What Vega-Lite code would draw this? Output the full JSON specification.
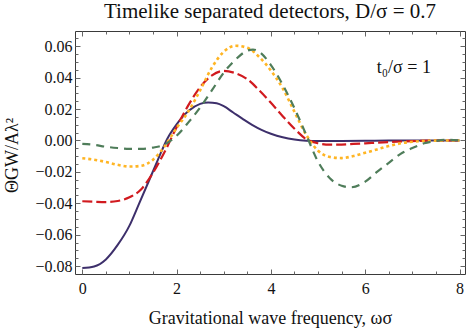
{
  "$schema": "https://vega.github.io/schema/vega-lite/v6.json",
  "width": 390,
  "height": 243,
  "autosize": {"type": "none"},
  "padding": {"left": 75, "top": 31, "right": 6, "bottom": 58},
  "title": {"text": "Timelike separated detectors, D/σ = 0.7", "font": "Liberation Serif", "fontSize": 21, "fontWeight": "normal", "color": "#111111", "frame": "group", "anchor": "middle", "baseline": "alphabetic", "offset": -8},
  "config": {
    "view": {"stroke": "#3a3a3a", "strokeWidth": 1},
    "axis": {"domain": false, "grid": false, "tickColor": "#666666", "tickWidth": 1, "labelFont": "Liberation Serif", "labelFontSize": 16, "labelColor": "#111111", "titleFont": "Liberation Serif", "titleFontSize": 18, "titleFontWeight": "normal", "titleColor": "#111111"}
  },
  "data": {"values": [
    {"s":"P","x":0,"y":-0.0812},{"s":"P","x":0.25,"y":-0.0802},{"s":"P","x":0.5,"y":-0.0757},{"s":"P","x":0.75,"y":-0.0665},{"s":"P","x":1,"y":-0.0542},{"s":"P","x":1.2,"y":-0.0405},{"s":"P","x":1.4,"y":-0.0266},{"s":"P","x":1.6,"y":-0.0125},{"s":"P","x":1.8,"y":0.001},{"s":"P","x":2,"y":0.0103},{"s":"P","x":2.25,"y":0.0188},{"s":"P","x":2.5,"y":0.0233},{"s":"P","x":2.67,"y":0.0242},{"s":"P","x":2.85,"y":0.0237},{"s":"P","x":3,"y":0.0218},{"s":"P","x":3.2,"y":0.0178},{"s":"P","x":3.4,"y":0.0138},{"s":"P","x":3.6,"y":0.01},{"s":"P","x":3.8,"y":0.0068},{"s":"P","x":4,"y":0.0043},{"s":"P","x":4.25,"y":0.002},{"s":"P","x":4.5,"y":0.0006},{"s":"P","x":4.75,"y":-0.0001},{"s":"P","x":5,"y":-0.0003},{"s":"P","x":5.5,"y":-0.0003},{"s":"P","x":6,"y":-0.0002},{"s":"P","x":6.5,"y":0},{"s":"P","x":7,"y":0},{"s":"P","x":8,"y":0},
    {"s":"R","x":0,"y":-0.0387},{"s":"R","x":0.25,"y":-0.039},{"s":"R","x":0.5,"y":-0.0392},{"s":"R","x":0.75,"y":-0.0385},{"s":"R","x":1,"y":-0.0362},{"s":"R","x":1.25,"y":-0.031},{"s":"R","x":1.5,"y":-0.0205},{"s":"R","x":1.75,"y":-0.007},{"s":"R","x":2,"y":0.0085},{"s":"R","x":2.25,"y":0.0225},{"s":"R","x":2.5,"y":0.034},{"s":"R","x":2.75,"y":0.0415},{"s":"R","x":3,"y":0.0443},{"s":"R","x":3.25,"y":0.0428},{"s":"R","x":3.5,"y":0.039},{"s":"R","x":3.75,"y":0.032},{"s":"R","x":4,"y":0.024},{"s":"R","x":4.25,"y":0.0155},{"s":"R","x":4.5,"y":0.0075},{"s":"R","x":4.75,"y":0.0008},{"s":"R","x":5,"y":-0.0018},{"s":"R","x":5.25,"y":-0.0026},{"s":"R","x":5.5,"y":-0.0026},{"s":"R","x":5.75,"y":-0.0022},{"s":"R","x":6,"y":-0.0018},{"s":"R","x":6.5,"y":-0.001},{"s":"R","x":7,"y":-0.0004},{"s":"R","x":7.5,"y":0},{"s":"R","x":8,"y":0},
    {"s":"Y","x":0,"y":-0.0113},{"s":"Y","x":0.25,"y":-0.0122},{"s":"Y","x":0.5,"y":-0.0137},{"s":"Y","x":0.75,"y":-0.0155},{"s":"Y","x":1,"y":-0.0166},{"s":"Y","x":1.25,"y":-0.0161},{"s":"Y","x":1.5,"y":-0.0122},{"s":"Y","x":1.75,"y":-0.0035},{"s":"Y","x":2,"y":0.008},{"s":"Y","x":2.25,"y":0.0185},{"s":"Y","x":2.5,"y":0.032},{"s":"Y","x":2.75,"y":0.0465},{"s":"Y","x":3,"y":0.0565},{"s":"Y","x":3.25,"y":0.0603},{"s":"Y","x":3.5,"y":0.059},{"s":"Y","x":3.75,"y":0.0532},{"s":"Y","x":4,"y":0.0445},{"s":"Y","x":4.25,"y":0.0332},{"s":"Y","x":4.5,"y":0.0182},{"s":"Y","x":4.75,"y":0.0035},{"s":"Y","x":5,"y":-0.0065},{"s":"Y","x":5.25,"y":-0.0105},{"s":"Y","x":5.5,"y":-0.0112},{"s":"Y","x":5.75,"y":-0.0099},{"s":"Y","x":6,"y":-0.0078},{"s":"Y","x":6.25,"y":-0.0057},{"s":"Y","x":6.5,"y":-0.0035},{"s":"Y","x":7,"y":-0.0008},{"s":"Y","x":7.5,"y":-0.0001},{"s":"Y","x":8,"y":0},
    {"s":"G","x":0,"y":-0.0021},{"s":"G","x":0.25,"y":-0.0028},{"s":"G","x":0.5,"y":-0.004},{"s":"G","x":0.75,"y":-0.0048},{"s":"G","x":1,"y":-0.0053},{"s":"G","x":1.25,"y":-0.0053},{"s":"G","x":1.5,"y":-0.0045},{"s":"G","x":1.75,"y":-0.0025},{"s":"G","x":2,"y":0.003},{"s":"G","x":2.25,"y":0.0115},{"s":"G","x":2.5,"y":0.021},{"s":"G","x":2.75,"y":0.032},{"s":"G","x":3,"y":0.0432},{"s":"G","x":3.25,"y":0.0515},{"s":"G","x":3.5,"y":0.0572},{"s":"G","x":3.62,"y":0.0579},{"s":"G","x":3.75,"y":0.0565},{"s":"G","x":4,"y":0.048},{"s":"G","x":4.25,"y":0.0355},{"s":"G","x":4.5,"y":0.0205},{"s":"G","x":4.75,"y":0.0035},{"s":"G","x":5,"y":-0.0135},{"s":"G","x":5.25,"y":-0.024},{"s":"G","x":5.5,"y":-0.0288},{"s":"G","x":5.7,"y":-0.0298},{"s":"G","x":6,"y":-0.0262},{"s":"G","x":6.25,"y":-0.02},{"s":"G","x":6.5,"y":-0.0142},{"s":"G","x":6.75,"y":-0.0085},{"s":"G","x":7,"y":-0.0048},{"s":"G","x":7.25,"y":-0.0018},{"s":"G","x":7.5,"y":-0.0003},{"s":"G","x":7.75,"y":0.0004},{"s":"G","x":8,"y":0.0001}
  ]},
  "resolve": {"axis": {"x": "independent", "y": "independent"}},
  "layer": [
    {
      "transform": [{"filter": "datum.s === 'P'"}],
      "mark": {"type": "line", "color": "#3d2f6b", "strokeWidth": 2, "interpolate": "monotone"},
      "encoding": {
        "x": {"field": "x", "type": "quantitative", "scale": {"domain": [-0.155, 8.116], "nice": false, "zero": false},
              "axis": {"orient": "bottom", "values": [0, 2, 4, 6, 8], "format": "d", "tickSize": -5, "labelPadding": 11, "title": "Gravitational wave frequency, ωσ", "titleY": 44, "titleBaseline": "middle"}},
        "y": {"field": "y", "type": "quantitative", "scale": {"domain": [-0.085, 0.0697], "nice": false, "zero": false},
              "axis": {"orient": "left", "values": [-0.08, -0.06, -0.04, -0.02, 0, 0.02, 0.04, 0.06], "format": ".2f", "tickSize": -5, "labelPadding": 8, "title": "ΘGW/Aλ²", "titleFontSize": 18, "titleX": -63, "titleY": 124, "titleAngle": -90, "titleAlign": "center", "titleBaseline": "middle"}}
      }
    },
    {
      "transform": [{"filter": "datum.s === 'R'"}],
      "mark": {"type": "line", "color": "#d11a1f", "strokeWidth": 2.2, "strokeDash": [10, 4], "interpolate": "monotone"},
      "encoding": {
        "x": {"field": "x", "type": "quantitative", "axis": {"orient": "bottom", "values": [0.5, 1, 1.5, 2.5, 3, 3.5, 4.5, 5, 5.5, 6.5, 7, 7.5], "tickSize": -3, "labels": false, "title": null}},
        "y": {"field": "y", "type": "quantitative", "axis": {"orient": "left", "values": [-0.075, -0.07, -0.065, -0.055, -0.05, -0.045, -0.035, -0.03, -0.025, -0.015, -0.01, -0.005, 0.005, 0.01, 0.015, 0.025, 0.03, 0.035, 0.045, 0.05, 0.055, 0.065], "tickSize": -3, "labels": false, "title": null}}
      }
    },
    {
      "transform": [{"filter": "datum.s === 'Y'"}],
      "mark": {"type": "line", "color": "#ffb524", "strokeWidth": 2.6, "strokeDash": [3, 3], "interpolate": "monotone"},
      "encoding": {
        "x": {"field": "x", "type": "quantitative", "axis": {"orient": "top", "values": [0, 2, 4, 6, 8], "tickSize": -5, "labels": false, "title": null}},
        "y": {"field": "y", "type": "quantitative", "axis": {"orient": "right", "values": [-0.08, -0.06, -0.04, -0.02, 0, 0.02, 0.04, 0.06], "tickSize": -5, "labels": false, "title": null}}
      }
    },
    {
      "transform": [{"filter": "datum.s === 'G'"}],
      "mark": {"type": "line", "color": "#4f7d5a", "strokeWidth": 2.2, "strokeDash": [8, 6], "interpolate": "monotone"},
      "encoding": {
        "x": {"field": "x", "type": "quantitative", "axis": {"orient": "top", "values": [0.5, 1, 1.5, 2.5, 3, 3.5, 4.5, 5, 5.5, 6.5, 7, 7.5], "tickSize": -3, "labels": false, "title": null}},
        "y": {"field": "y", "type": "quantitative", "axis": {"orient": "right", "values": [-0.075, -0.07, -0.065, -0.055, -0.05, -0.045, -0.035, -0.03, -0.025, -0.015, -0.01, -0.005, 0.005, 0.01, 0.015, 0.025, 0.03, 0.035, 0.045, 0.05, 0.055, 0.065], "tickSize": -3, "labels": false, "title": null}}
      }
    },
    {
      "data": {"values": [{"label": "t₀/σ = 1", "x": 6.82, "y": 0.0462}]},
      "mark": {"type": "text", "font": "Liberation Serif", "fontSize": 18, "fontWeight": "normal", "fill": "#111111", "align": "center", "baseline": "middle"},
      "encoding": {
        "text": {"field": "label"},
        "x": {"field": "x", "type": "quantitative", "axis": null},
        "y": {"field": "y", "type": "quantitative", "axis": null}
      }
    }
  ]
}
